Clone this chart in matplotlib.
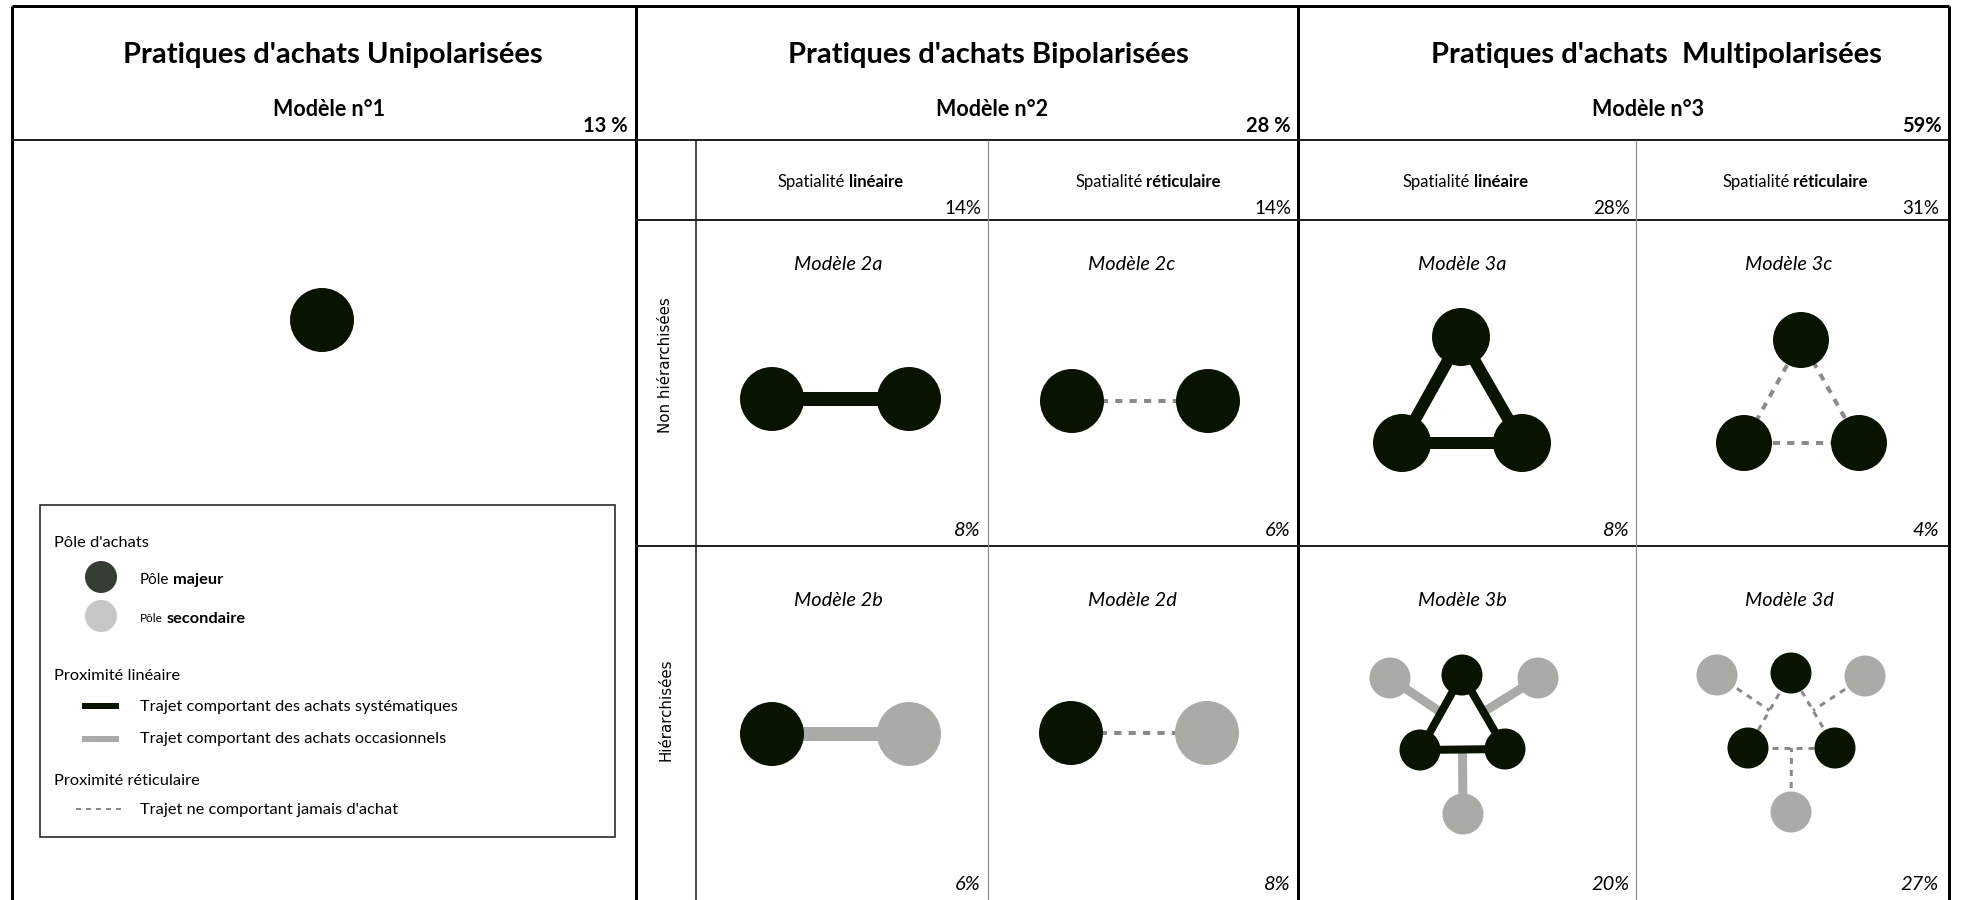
import matplotlib.pyplot as plt
from matplotlib.patches import Circle, Rectangle

# ---- chart content ----
group_titles = ["Pratiques d'achats Unipolarisées",
                "Pratiques d'achats Bipolarisées",
                "Pratiques d'achats  Multipolarisées"]
group_models = ["Modèle n°1", "Modèle n°2", "Modèle n°3"]
group_shares = ["13 %", "28 %", "59%"]
spatial_plain = ["Spatialité", "Spatialité", "Spatialité", "Spatialité"]
spatial_bold = ["linéaire", "réticulaire", "linéaire", "réticulaire"]
spatial_shares = ["14%", "14%", "28%", "31%"]
row_labels = ["Non hiérarchisées", "Hiérarchisées"]
cell_models = [["Modèle 2a", "Modèle 2c", "Modèle 3a", "Modèle 3c"],
               ["Modèle 2b", "Modèle 2d", "Modèle 3b", "Modèle 3d"]]
cell_shares = [["8%", "6%", "8%", "4%"],
               ["6%", "8%", "20%", "27%"]]
legend_heads = ["Pôle d'achats", "Proximité linéaire", "Proximité réticulaire"]
legend_items = ["Trajet comportant des achats systématiques",
                "Trajet comportant des achats occasionnels",
                "Trajet ne comportant jamais d'achat"]

DARK = '#081400'
GREY = '#a8aba6'
DASH = '#8a8a8a'
FONT = 'Lato'

W, H = 1961, 900
fig = plt.figure(figsize=(W / 100, H / 100), dpi=100)
ax = fig.add_axes([0, 0, 1, 1])
ax.set_xlim(0, W)
ax.set_ylim(H, 0)
ax.axis('off')
renderer = fig.canvas.get_renderer()


def px(w):
    # pixel width -> points
    return w * 0.72


def seg(p, q, color, width, dashed=None, z=1):
    ls = '-' if dashed is None else (0, dashed)
    ax.plot([p[0], q[0]], [p[1], q[1]], color=color, lw=px(width),
            ls=ls, solid_capstyle='butt', dash_capstyle='butt', zorder=z)


def node(c, r, color):
    ax.add_patch(Circle(c, r, color=color, lw=0, zorder=3))


def mixed(x, y, parts, ha='center'):
    # parts: (text, size, weight)
    ts = [ax.text(0, y, s, fontsize=sz, fontweight=wt, family=FONT,
                  va='center', ha='left') for s, sz, wt in parts]
    ws = [t.get_window_extent(renderer).width for t in ts]
    gap = parts[-1][1] * 1.389 * 0.24
    total = sum(ws) + gap * (len(ts) - 1)
    x0 = x - total / 2 if ha == 'center' else x
    for t, w in zip(ts, ws):
        t.set_x(x0)
        x0 += w + gap


# ---- frame ----
LX, RX, TY = 12, 1949, 6
D1, D2 = 636, 1298
seg((LX, TY), (RX, TY), 'black', 3)
seg((LX, TY), (LX, H), 'black', 3)
seg((RX, TY), (RX, H), 'black', 3)
seg((D1, TY), (D1, H), 'black', 3)
seg((D2, TY), (D2, H), 'black', 3)
seg((LX, 140), (RX, 140), '#222222', 2)
seg((D1, 220), (RX, 220), '#222222', 2)
seg((D1, 546), (RX, 546), '#222222', 2)
seg((696, 140), (696, H), '#222222', 1.6)
for gx in (988, 1636):
    seg((gx, 140), (gx, H), '#8c8c8c', 1.2)

# ---- headers ----
title_x = [333, 988, 1656]
model_x = [329, 992, 1648]
share_x = [628, 1291, 1942]
for i in range(3):
    ax.text(title_x[i], 55, group_titles[i], fontsize=21, fontweight='bold',
            family=FONT, ha='center', va='center')
    ax.text(model_x[i], 110, group_models[i], fontsize=15.5, fontweight='bold',
            family=FONT, ha='center', va='center')
    ax.text(share_x[i], 126, group_shares[i], fontsize=14.5, fontweight='bold',
            family=FONT, ha='right', va='center')

col_cx = [840, 1148, 1465, 1795]
col_right = [981, 1291, 1630, 1939]
for j in range(4):
    mixed(col_cx[j], 182, [(spatial_plain[j], 12, 'normal'),
                           (spatial_bold[j], 12, 'bold')])
    ax.text(col_right[j], 208, spatial_shares[j], fontsize=13.5, family=FONT,
            ha='right', va='center')

row_cy = [365, 710]
for i in range(2):
    ax.text(666, row_cy[i], row_labels[i], fontsize=10.8, rotation=90,
            family='DejaVu Sans', ha='center', va='center')

model_cx = [838, 1132, 1462, 1789]
model_y = [265, 600]
share_y = [531, 884]
for i in range(2):
    for j in range(4):
        ax.text(model_cx[j], model_y[i], cell_models[i][j], fontsize=14.4,
                style='italic', family=FONT, ha='center', va='center')
        ax.text(col_right[j], share_y[i], cell_shares[i][j], fontsize=14.5,
                style='italic', family=FONT, ha='right', va='center')

# ---- model 1 ----
node((322, 320), 32, DARK)

# ---- model 2 ----
for (a, b, link, second) in [((772, 399), (909, 399), 'solid', DARK),
                             ((1072, 401), (1208, 401), 'dash', DARK),
                             ((772, 734), (909, 734), 'grey', GREY),
                             ((1071, 733), (1207, 733), 'dash', GREY)]:
    node(a, 32, DARK)
    node(b, 32, second)
    if link == 'solid':
        seg(a, b, DARK, 14)
    elif link == 'grey':
        seg(a, b, GREY, 14)
    else:
        seg(a, b, DASH, 4, dashed=(1.8, 1.8))

# ---- model 3a / 3c ----
tri_a = [(1461, 337), (1402, 443), (1522, 443)]
tri_c = [(1801, 340), (1744, 443), (1859, 443)]
for k in range(3):
    seg(tri_a[k], tri_a[(k + 1) % 3], DARK, 12)
    seg(tri_c[k], tri_c[(k + 1) % 3], DASH, 4, dashed=(1.8, 1.8))
for p in tri_a:
    node(p, 29, DARK)
for p in tri_c:
    node(p, 28, DARK)


# ---- model 3b / 3d ----
def star(tri, sats, solid):
    top, bl, br = tri
    mids = [((top[0] + bl[0]) / 2, (top[1] + bl[1]) / 2),
            ((top[0] + br[0]) / 2, (top[1] + br[1]) / 2),
            ((bl[0] + br[0]) / 2, (bl[1] + br[1]) / 2)]
    for s, m in zip(sats, mids):
        if solid:
            seg(s, m, GREY, 9, z=0)
        else:
            seg(s, m, DASH, 3, dashed=(2, 2), z=0)
    for k in range(3):
        if solid:
            seg(tri[k], tri[(k + 1) % 3], DARK, 8)
        else:
            seg(tri[k], tri[(k + 1) % 3], DASH, 3, dashed=(2, 2))
    for p in tri:
        node(p, 20.5, DARK)
    for s in sats:
        node(s, 20.5, GREY)


star([(1462, 675), (1420, 750), (1505, 749)],
     [(1390, 678), (1538, 678), (1463, 814)], True)
star([(1791, 673), (1748, 748), (1835, 748)],
     [(1717, 675), (1865, 676), (1791, 812)], False)

# ---- legend ----
LEG = 11.8
ax.add_patch(Rectangle((40, 505), 575, 332, fill=False, ec='#222222',
                       lw=px(1.6), zorder=2))
ax.text(54, 543, legend_heads[0], fontsize=LEG, family=FONT, va='center')
ax.add_patch(Circle((101, 577), 16, color='#343c33', lw=0))
ax.add_patch(Circle((101, 616), 16, color='#c5c7c4', lw=0))
mixed(140, 580, [("Pôle", 11, 'normal'), ("majeur", LEG, 'bold')], ha='left')
mixed(140, 619, [("Pôle", 8.5, 'normal'), ("secondaire", LEG, 'bold')], ha='left')
ax.text(54, 676, legend_heads[1], fontsize=LEG, family=FONT, va='center')
seg((82, 706), (119, 706), DARK, 6)
ax.text(140, 707, legend_items[0], fontsize=LEG, family=FONT, va='center')
seg((82, 739), (119, 739), GREY, 6)
ax.text(140, 739, legend_items[1], fontsize=LEG, family=FONT, va='center')
ax.text(54, 781, legend_heads[2], fontsize=LEG, family=FONT, va='center')
seg((76, 809), (125, 809), DASH, 2, dashed=(2.5, 2.5))
ax.text(140, 810, legend_items[2], fontsize=LEG, family=FONT, va='center')

fig.savefig('out.png', dpi=100)
